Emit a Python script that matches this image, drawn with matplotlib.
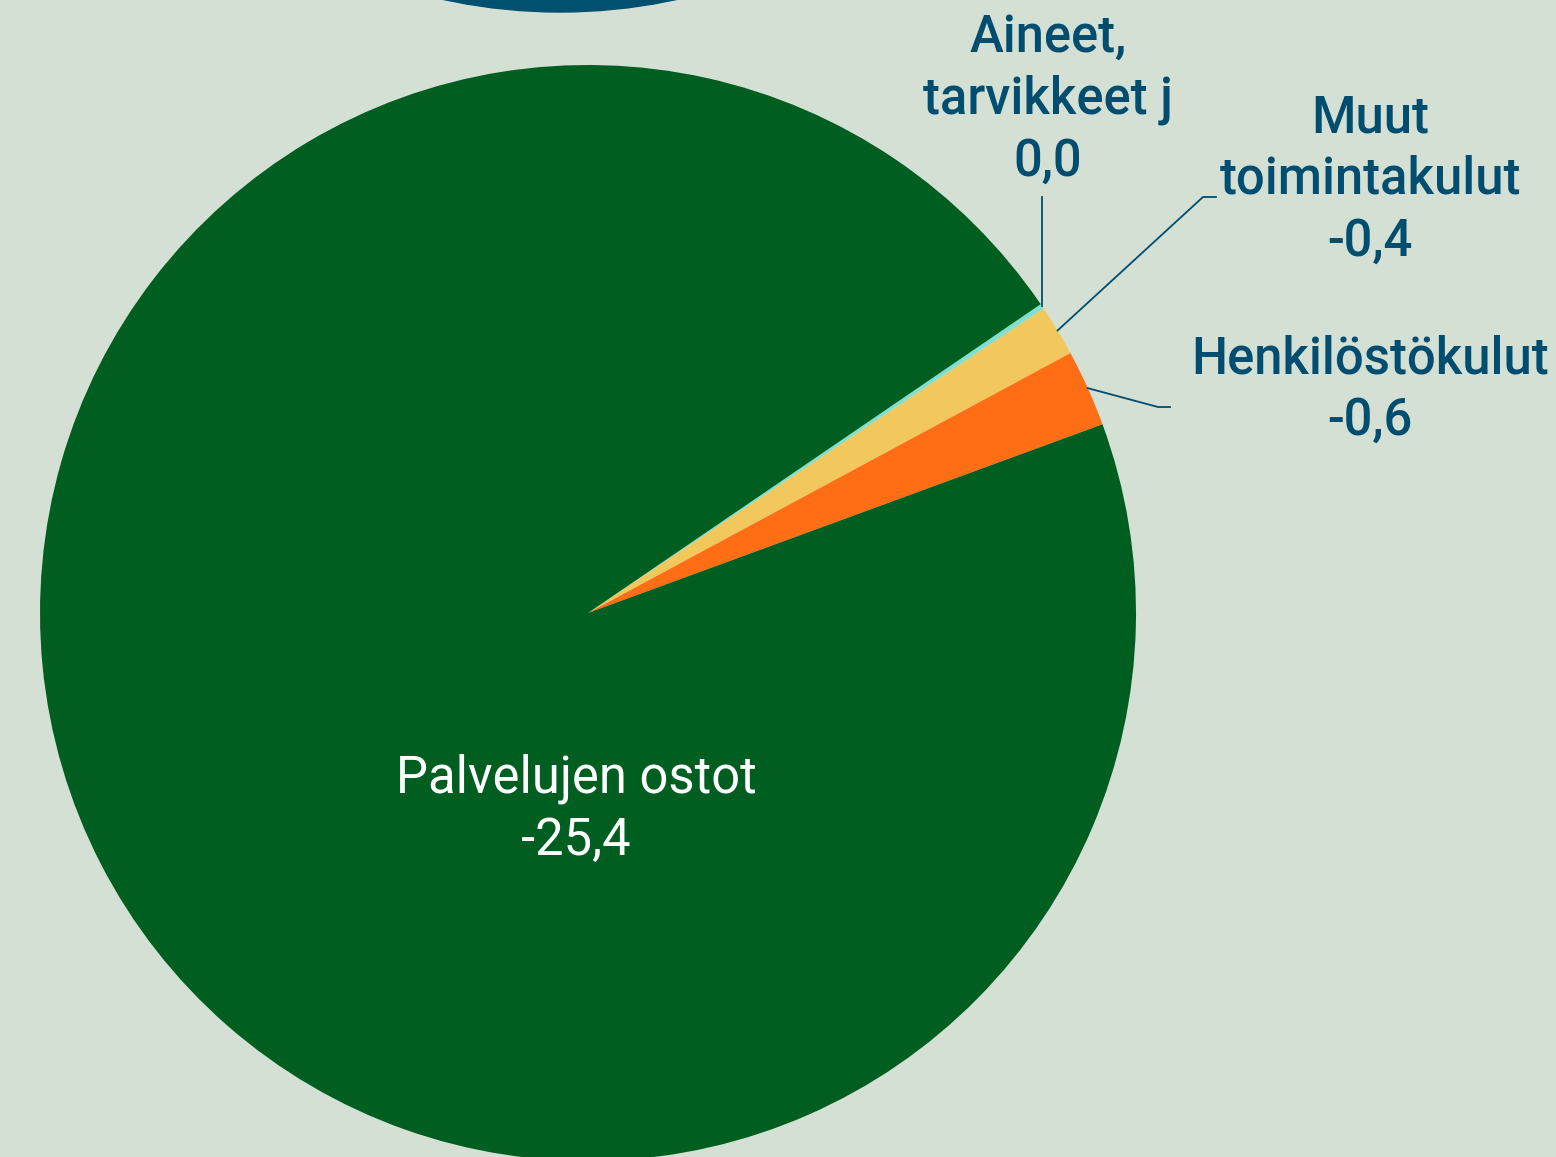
import matplotlib.pyplot as plt
import numpy as np

# expenses (absolute values for wedge sizes) and their shown labels
categories = ["Aineet,\ntarvikkeet j", "Muut\ntoimintakulut", "Henkilöstökulut", "Palvelujen ostot"]
values = [0.04, 0.4, 0.6, 25.4]
shown = ["0,0", "-0,4", "-0,6", "-25,4"]
colors = ["#7fe0d2", "#f2c75c", "#ff6d14", "#005e20"]

bg = "#d3e0d3"
txt = "#004d70"
W, H = 1556, 1157

plt.rcParams['font.family'] = ['Roboto', 'DejaVu Sans']

fig = plt.figure(figsize=(W / 100, H / 100), dpi=100, facecolor=bg)
ax = fig.add_axes([0, 0, 1, 1])
ax.set_facecolor(bg)

# part of the neighbouring pie peeking in at the top
ax.add_patch(plt.Circle((560, H + 536), 548, color="#00506f", zorder=0))

cx, cy, r = 588, H - 613, 548
wedges, _ = ax.pie(values, center=(cx, cy), radius=r, startangle=34.3,
                   counterclock=False, colors=colors,
                   wedgeprops=dict(linewidth=0))

ax.set_xlim(0, W)
ax.set_ylim(0, H)
ax.set_aspect('equal')
ax.axis('off')

def anchor(w):
    a = np.deg2rad((w.theta1 + w.theta2) / 2)
    return cx + r * np.cos(a), cy + r * np.sin(a)

fs = 36.5
ls = 1.3
kw = dict(ha='center', va='center', fontsize=fs, linespacing=ls, fontweight='medium')

# Aineet: straight up
x0, y0 = anchor(wedges[0])
ax.plot([x0, x0], [y0, H - 197], color=txt, lw=1.3)
ax.text(1048, H - 100, categories[0] + "\n" + shown[0], color=txt, **kw)

# Muut
x0, y0 = anchor(wedges[1])
ax.plot([x0, 1203, 1216], [y0, H - 197, H - 197], color=txt, lw=1.3)
ax.text(1370, H - 180, categories[1] + "\n" + shown[1], color=txt, **kw)

# Henkilöstökulut
x0, y0 = anchor(wedges[2])
ax.plot([x0, 1158, 1170], [y0, H - 407, H - 407], color=txt, lw=1.3)
ax.text(1370, H - 390, categories[2] + "\n" + shown[2], color=txt, **kw)

# Palvelujen ostot inside the wedge
kw['fontweight'] = 'normal'
ax.text(576, H - 810, categories[3] + "\n" + shown[3], color="white", **kw)

fig.savefig("out.png", dpi=100, facecolor=bg)
